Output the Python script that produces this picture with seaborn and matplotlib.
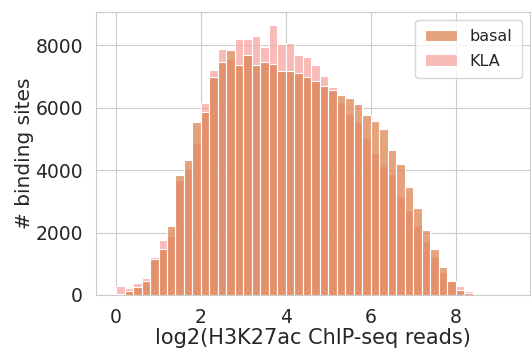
import numpy as np
import pandas as pd
import matplotlib.pyplot as plt
import seaborn as sns

# bins of 0.2 log2 units, starting at 0
bin_edges = [round(0.2 * i, 2) for i in range(44)]

# counts per bin
basal = [30, 138, 266, 447, 1137, 1457, 2201, 3846, 4327, 5556,
         5860, 6990, 7478, 7853, 7372, 7700, 7372, 7457, 7410, 7185,
         7185, 7105, 6998, 6870, 6699, 6571, 6400, 6304, 6130, 5765,
         5588, 5326, 4650, 4190, 3465, 2782, 2078, 1470, 880, 448,
         160, 53, 10]
kla = [287, 214, 373, 532, 1222, 1776, 1882, 3686, 4028, 4883,
       6143, 7200, 7874, 7560, 8205, 8194, 8290, 7938, 8654, 8040,
       8088, 7692, 7638, 7360, 7030, 6677, 6197, 5791, 5540, 5030,
       4535, 4140, 3870, 3170, 2718, 2238, 1715, 1225, 740, 430,
       288, 128, 45]
conditions = ['basal', 'KLA']

edges = np.array(bin_edges)
centers = (edges[:-1] + edges[1:]) / 2
df = pd.DataFrame({
    'reads': np.concatenate([centers, centers]),
    'n': basal + kla,
    'condition': ['basal'] * len(basal) + ['KLA'] * len(kla),
})

sns.set_style('whitegrid')
plt.rcParams['font.family'] = ['DejaVu Sans']

fig, ax = plt.subplots(figsize=(5.31, 3.49), dpi=100)
fig.subplots_adjust(left=0.181, right=0.998, top=0.967, bottom=0.155)

sns.histplot(data=df, x='reads', weights='n', hue='condition', hue_order=conditions,
             bins=bin_edges, multiple='layer', alpha=0.75,
             palette={'basal': '#dd8452', 'KLA': '#f8a49f'},
             edgecolor='white', linewidth=0.8, ax=ax)

ax.set_xlim(-0.47, 9.75)
ax.set_xticks([0, 2, 4, 6, 8])
ax.set_yticks([0, 2000, 4000, 6000, 8000])
ax.tick_params(labelsize=13.5, pad=6, colors='#262626')
ax.set_xlabel('log2(H3K27ac ChIP-seq reads)', fontsize=15, color='#262626', labelpad=1)
ax.set_ylabel('# binding sites', fontsize=14.5, color='#262626', labelpad=1)

sns.move_legend(ax, 'upper right', title=None, fontsize=11.5, frameon=True,
                borderpad=0.6, labelspacing=0.6, handlelength=2.0)

plt.savefig('out.png', dpi=100)
